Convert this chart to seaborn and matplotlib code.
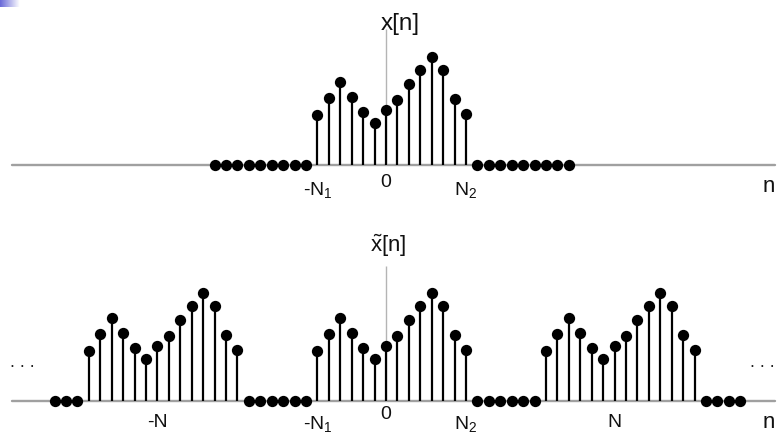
import numpy as np
import pandas as pd
import matplotlib
matplotlib.use("Agg")
import matplotlib.pyplot as plt
import seaborn as sns

# ---- signal definition -------------------------------------------------
N1 = 6            # x[n] is nonzero from -N1 ...
N2 = 7            # ... up to N2
N = 20            # period of the periodic extension
x_values = [5.0, 6.7, 8.3, 6.8, 5.3, 4.2, 5.5, 6.5, 8.1, 9.5, 10.8, 9.5, 6.6, 5.1]

# index ranges that are shown in each panel
top_range = (-15, 16)       # x[n]
bottom_range = (-29, 31)    # periodic x~[n]

top_ticks = [(-N1, "-N$_1$"), (0, "0"), (N2, "N$_2$")]
bottom_ticks = [(-N, "-N"), (-N1, "-N$_1$"), (0, "0"), (N2, "N$_2$"), (N, "N")]

# ---- style ---------------------------------------------------------------
sns.set_theme(style="white")
plt.rcParams["font.family"] = ["Liberation Sans", "DejaVu Sans"]
plt.rcParams["mathtext.fontset"] = "custom"
plt.rcParams["mathtext.rm"] = "Liberation Sans"
plt.rcParams["mathtext.it"] = "Liberation Sans:italic"

W, H = 777, 435
fig = plt.figure(figsize=(W / 100, H / 100), dpi=100)
fig.patch.set_facecolor("white")

STEP = 11.43        # pixels per sample
ORIGIN = 386        # pixel column of n = 0
UNIT = 10.0         # pixels per amplitude unit
xlim = (-ORIGIN / STEP, (W - ORIGIN) / STEP)

AXIS_GRAY = "#a0a0a0"
STEM_LW = 1.6
DOT_S = 66
TICK_FS = 14


def x_of(n):
    n = np.asarray(n)
    vals = np.zeros(n.shape)
    inside = (n >= -N1) & (n <= N2)
    vals[inside] = np.asarray(x_values)[n[inside] + N1]
    return vals


def periodic(n):
    n = np.asarray(n)
    m = ((n + N1) % N) - N1
    return x_of(m)


def stem_panel(ax, n, vals, axis_top):
    ax.set_xlim(*xlim)
    ax.axhline(0, xmin=12 / W, xmax=775 / W, color=AXIS_GRAY, lw=1.7, zorder=1)
    ax.vlines(0, 0, axis_top, color="#b4b4b4", lw=1.0, zorder=1)
    df = pd.DataFrame({"n": n, "v": vals})
    nz = df[df.v != 0]
    ax.vlines(nz.n, 0, nz.v, color="black", lw=STEM_LW, zorder=2)
    sns.scatterplot(data=df, x="n", y="v", ax=ax, color="black", s=DOT_S,
                    linewidth=0, zorder=3, legend=False)
    ax.set_axis_off()


# ---- top panel: x[n] ---------------------------------------------------
ax_top = fig.add_axes([0, 220 / H, 1, 215 / H])
n_top = np.arange(top_range[0], top_range[1] + 1)
stem_panel(ax_top, n_top, x_of(n_top), 13.57)
ax_top.set_ylim(-(215 - 165.7) / UNIT, -(215 - 165.7) / UNIT + 215 / UNIT)

for pos, lab in top_ticks:
    dy = -6.3 if lab == "0" else -10.0
    ax_top.annotate(lab, xy=(pos, 0), xytext=(0, dy), textcoords="offset points",
                    ha="center", va="top", fontsize=TICK_FS, color="#111111")

# ---- bottom panel: periodic extension -------------------------------------
ax_bot = fig.add_axes([0, 0, 1, 220 / H])
n_bot = np.arange(bottom_range[0], bottom_range[1] + 1)
stem_panel(ax_bot, n_bot, periodic(n_bot), 13.5)
ax_bot.set_ylim(-(435 - 401.7) / UNIT, -(435 - 401.7) / UNIT + 220 / UNIT)

for pos, lab in bottom_ticks:
    dy = -3.4 if lab == "0" else -8.8
    ax_bot.annotate(lab, xy=(pos, 0), xytext=(0, dy), textcoords="offset points",
                    ha="center", va="top", fontsize=TICK_FS, color="#111111")

# ---- free text -----------------------------------------------------------
def ftext(px, py, s, **kw):
    fig.text(px / W, 1 - py / H, s, **kw)

ftext(400, 30, "x[n]", ha="center", va="baseline", fontsize=17.5, color="#111111")
ftext(388, 252, r"$\tilde{\mathrm{x}}$[n]", ha="center", va="baseline",
      fontsize=16, color="#111111")
ftext(763, 192, "n", ha="left", va="baseline", fontsize=16, color="#111111")
ftext(763, 428, "n", ha="left", va="baseline", fontsize=16, color="#111111")
ftext(10, 367, ". . .", ha="left", va="baseline", fontsize=13, color="#222222")
ftext(750, 367, ". . .", ha="left", va="baseline", fontsize=13, color="#222222")

# small slide-corner gradient
grad = np.ones((8, 26, 3))
t = np.clip(np.linspace(0, 1, 26) * 1.3, 0, 1)
base = np.array([0.42, 0.42, 0.85])
grad[:] = base[None, None, :] * (1 - t)[None, :, None] + t[None, :, None]
fig.figimage(grad, xo=0, yo=H - 8, zorder=5)

fig.savefig("out.png", dpi=100, facecolor="white")
